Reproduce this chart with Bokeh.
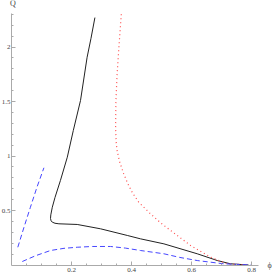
from bokeh.plotting import figure
from bokeh.models import FixedTicker, Label, Range1d
from bokeh.embed import file_html
from bokeh.resources import INLINE

# Black solid curve
black_phi = [0.278, 0.265, 0.252, 0.230, 0.206, 0.186, 0.163, 0.145, 0.136, 0.131,
             0.130, 0.132, 0.136, 0.145, 0.158, 0.219, 0.297, 0.386, 0.430, 0.508,
             0.619, 0.686, 0.730, 0.790]
black_q = [2.27, 2.08, 1.906, 1.509, 1.234, 0.989, 0.775, 0.620, 0.530, 0.460,
           0.427, 0.405, 0.393, 0.383, 0.378, 0.372, 0.332, 0.271, 0.240, 0.194,
           0.103, 0.041, 0.011, 0.0]

# Red dotted curve
red_phi = [0.366, 0.358, 0.352, 0.348, 0.347, 0.349, 0.352, 0.360, 0.374, 0.387,
           0.402, 0.424, 0.463, 0.500, 0.530, 0.597, 0.663, 0.719, 0.790]
red_q = [2.30, 2.00, 1.75, 1.50, 1.25, 1.12, 1.05, 0.95, 0.837, 0.75,
         0.668, 0.576, 0.470, 0.380, 0.317, 0.179, 0.072, 0.011, 0.0]

# Blue dashed, upper-left branch
blue1_phi = [0.021, 0.042, 0.063, 0.085, 0.108]
blue1_q = [0.163, 0.350, 0.530, 0.715, 0.892]

# Blue dashed, lower branch
blue2_phi = [0.036, 0.080, 0.130, 0.175, 0.219, 0.270, 0.330, 0.380, 0.430, 0.508,
             0.560, 0.619, 0.707, 0.800]
blue2_q = [0.032, 0.085, 0.133, 0.153, 0.163, 0.170, 0.170, 0.155, 0.133, 0.103,
           0.070, 0.041, 0.011, 0.0]

x_ticks = [0.2, 0.4, 0.6, 0.8]
x_minor = [0.05, 0.1, 0.15, 0.25, 0.3, 0.35, 0.45, 0.5, 0.55, 0.65, 0.7, 0.75]
y_ticks = [0.5, 1.0, 1.5, 2.0]
y_minor = [0.1, 0.2, 0.3, 0.4, 0.6, 0.7, 0.8, 0.9, 1.1, 1.2, 1.3, 1.4,
           1.6, 1.7, 1.8, 1.9, 2.1, 2.2, 2.3]
x_axis_end = 0.823
y_axis_end = 2.31

p = figure(width=273, height=275, output_backend="svg", toolbar_location=None,
           x_range=Range1d(-0.0367, 0.8733), y_range=Range1d(-0.0963, 2.4266),
           min_border_left=0, min_border_right=0, min_border_top=0,
           min_border_bottom=0)
p.outline_line_color = None
p.xgrid.visible = False
p.ygrid.visible = False
p.background_fill_color = "white"
p.border_fill_color = "white"

p.xaxis.fixed_location = 0
p.yaxis.fixed_location = 0
p.xaxis.bounds = (0, x_axis_end)
p.yaxis.bounds = (0, y_axis_end)
p.xaxis.ticker = FixedTicker(ticks=x_ticks, minor_ticks=x_minor)
p.yaxis.ticker = FixedTicker(ticks=y_ticks, minor_ticks=y_minor)
for ax in (p.xaxis, p.yaxis):
    ax.axis_line_color = "#aaaaaa"
    ax.major_tick_line_color = "#aaaaaa"
    ax.minor_tick_line_color = "#aaaaaa"
    ax.major_tick_in = 4
    ax.major_tick_out = 0
    ax.minor_tick_in = 2
    ax.minor_tick_out = 0
    ax.major_label_text_font = "Liberation Serif"
    ax.major_label_text_font_size = "7px"
    ax.major_label_text_color = "#444444"
p.xaxis.major_label_standoff = 3
p.yaxis.major_label_standoff = 1

p.line(black_phi, black_q, line_color="#222222", line_width=1)
p.line(red_phi, red_q, line_color="#ff4d4d", line_width=1.2, line_dash="1 3")
p.line(blue1_phi, blue1_q, line_color="#4646ff", line_width=1, line_dash="5 3")
p.line(blue2_phi, blue2_q, line_color="#4646ff", line_width=1, line_dash="5 3")

p.add_layout(Label(x=0, y=y_axis_end, text="Q", x_offset=1.5, y_offset=5,
                   text_font="Liberation Serif", text_font_size="8px",
                   text_color="#444444", text_align="center",
                   text_baseline="bottom"))
p.add_layout(Label(x=x_axis_end, y=0, text="ϕ", x_offset=9, y_offset=0,
                   text_font="Liberation Serif", text_font_size="8px",
                   text_color="#444444", text_align="left",
                   text_baseline="middle"))

open("out.html", "w").write(file_html(p, INLINE))
